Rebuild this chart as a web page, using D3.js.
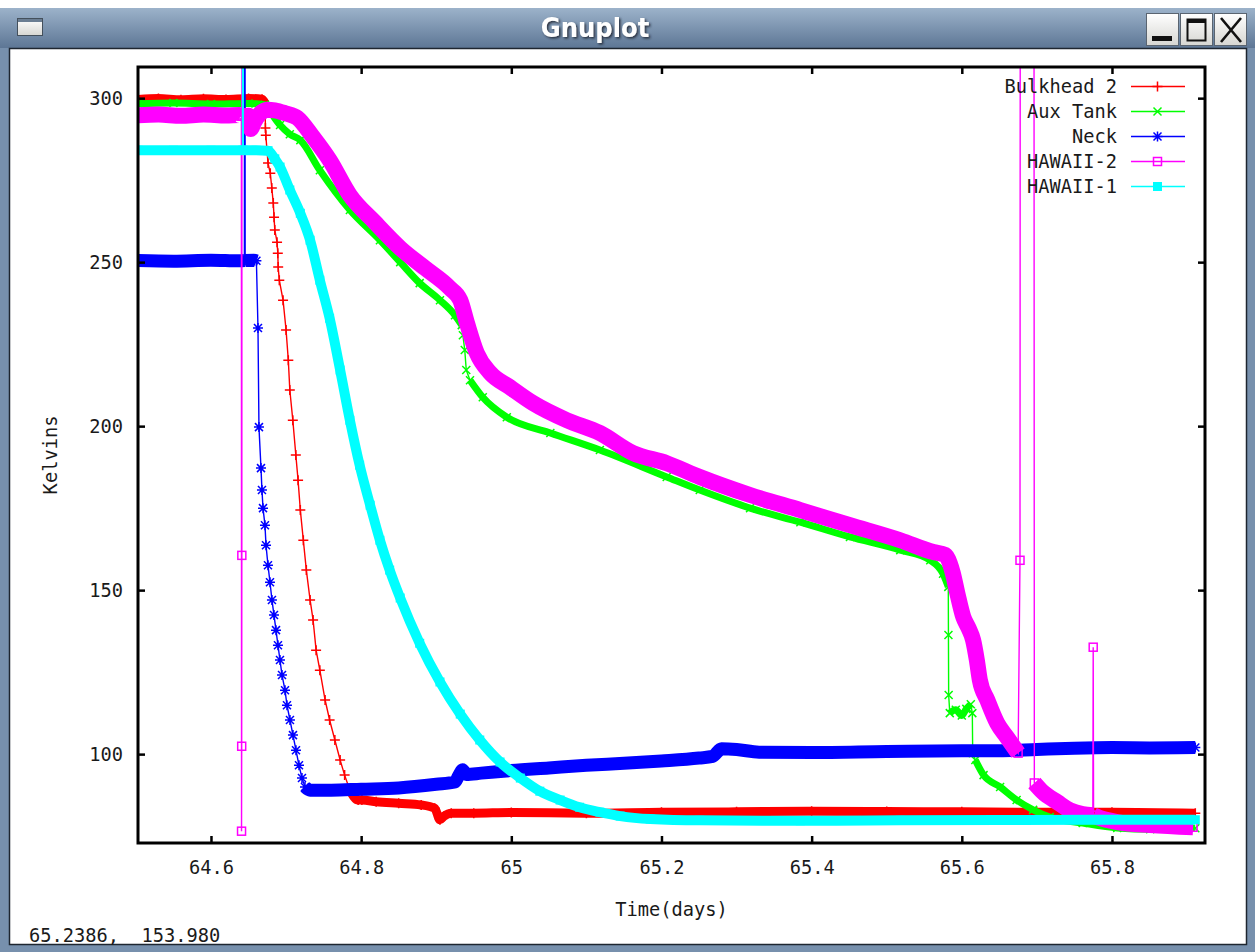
<!DOCTYPE html>
<html><head><meta charset="utf-8">
<script src="https://cdn.jsdelivr.net/npm/d3@7"></script>
<style>
body{margin:0;background:#fff;}
svg{display:block;}
text{font-family:"DejaVu Sans Mono",monospace;}
</style>
</head><body>
<svg id="c" width="1255" height="952"></svg>
<script>
// ---------- data ----------
const xTicks = [64.6, 64.8, 65.0, 65.2, 65.4, 65.6, 65.8];
const xTickLabels = ["64.6", "64.8", "65", "65.2", "65.4", "65.6", "65.8"];
const yTicks = [100, 150, 200, 250, 300];
const yTickLabels = ["100", "150", "200", "250", "300"];
const seriesNames = ["Bulkhead 2", "Aux Tank", "Neck", "HAWAII-2", "HAWAII-1"];
const xLabel = "Time(days)";
const yLabel = "Kelvins";
const statusText = "65.2386,  153.980";

const bulkhead2 = [
  [64.503, 299.6], [64.53, 299.9], [64.56, 299.5], [64.59, 299.8], [64.62, 299.6], [64.65, 299.9],
  [64.668, 299.7], [64.672, 298.5], [64.6725, 290.9], [64.673, 288.7], [64.676, 280.2], [64.679, 277.1],
  [64.681, 272.6], [64.683, 268.0], [64.684, 263.7], [64.685, 259.8], [64.688, 256.1], [64.689, 252.7],
  [64.6895, 248.5], [64.691, 244.5], [64.696, 238.4], [64.700, 229.3], [64.703, 220.1], [64.705, 211.0],
  [64.709, 201.8], [64.713, 191.2], [64.716, 183.5], [64.719, 174.4], [64.723, 165.2], [64.727, 156.1],
  [64.732, 147.0], [64.736, 140.9], [64.740, 131.7], [64.745, 125.6], [64.752, 116.5], [64.758, 110.4],
  [64.765, 104.3], [64.772, 98.2], [64.778, 93.6], [64.785, 89.0], [64.796, 86.0], [64.801, 86.0],
  [64.82, 85.5], [64.85, 85.0], [64.88, 84.5], [64.898, 83.5], [64.905, 80.0], [64.91, 81.0],
  [64.92, 82.0], [64.95, 82.0], [65.0, 82.2], [65.1, 82.0], [65.2, 82.3], [65.3, 82.4], [65.4, 82.6],
  [65.5, 82.5], [65.6, 82.4], [65.7, 82.3], [65.8, 82.3], [65.911, 82.0]
];
const auxTank = [
  [64.503, 298.3], [64.55, 298.5], [64.6, 298.2], [64.65, 298.4], [64.672, 298.0], [64.68, 295.5],
  [64.692, 291.8], [64.705, 289.0], [64.719, 287.2], [64.745, 278.0], [64.785, 265.9], [64.825, 256.7],
  [64.852, 250.0], [64.878, 243.6], [64.905, 238.4], [64.925, 233.8], [64.934, 230.8], [64.9355, 227.7],
  [64.938, 223.2], [64.940, 217.1], [64.945, 214.0], [64.962, 208.8], [64.994, 202.7], [65.052, 197.9],
  [65.118, 192.7], [65.207, 184.5], [65.251, 180.5], [65.318, 175.0], [65.385, 170.7], [65.451, 166.2],
  [65.518, 162.2], [65.558, 159.1], [65.575, 155.0], [65.582, 151.0], [65.5822, 136.3], [65.5825, 118.0],
  [65.584, 112.5], [65.592, 113.5], [65.600, 111.8], [65.606, 113.8], [65.612, 115.2], [65.614, 112.5],
  [65.6145, 100.3], [65.618, 98.2], [65.629, 93.6], [65.651, 90.0], [65.673, 86.0], [65.695, 83.0],
  [65.717, 80.8], [65.761, 79.0], [65.807, 77.5], [65.851, 77.1], [65.911, 77.4]
];
const neck = [
  [64.503, 250.5], [64.55, 250.3], [64.6, 250.6], [64.638, 250.4], [64.6445, 250.5], [64.6448, 420],
  [64.6452, 420], [64.6455, 250.5], [64.657, 250.6], [64.6605, 250.4],
  [64.6626, 229.9], [64.6639, 199.7], [64.6666, 187.2], [64.6679, 180.5], [64.6693, 175.0], [64.6719, 169.8],
  [64.6733, 163.7], [64.6759, 157.6], [64.6786, 152.4], [64.6812, 147.0], [64.6839, 142.4], [64.6866, 137.8],
  [64.6892, 133.2], [64.6919, 128.7], [64.6946, 124.1], [64.6986, 119.5], [64.7012, 114.9], [64.7052, 110.4],
  [64.7092, 105.8], [64.7132, 101.2], [64.7172, 96.6], [64.7212, 92.7], [64.7252, 90.0], [64.7319, 89.0],
  [64.76, 89.0], [64.8, 89.3], [64.85, 89.7], [64.9, 90.8], [64.925, 91.5], [64.93, 93.5], [64.935, 95.2],
  [64.94, 93.8], [64.96, 94.2], [65.0, 95.0], [65.05, 95.8], [65.1, 96.6], [65.15, 97.2], [65.2, 97.9],
  [65.25, 98.8], [65.268, 99.3], [65.28, 101.6], [65.3, 101.4], [65.33, 100.6], [65.4, 100.5], [65.5, 100.8],
  [65.6, 101.0], [65.65, 101.0], [65.7, 101.4], [65.75, 101.8], [65.8, 102.0], [65.85, 101.9], [65.911, 102.0]
];
const hawaii2 = [
  [64.503, 294.8], [64.53, 295.0], [64.56, 294.6], [64.59, 295.0], [64.62, 294.7], [64.638, 294.9],
  [64.6405, 294.5], [64.6407, 76.5], [64.6409, 102.4], [64.6411, 160.6], [64.6413, 420], [64.6415, 294.5],
  [64.65, 294.6], [64.653, 290.6], [64.657, 292.5], [64.665, 295.2], [64.675, 296.5], [64.685, 296.3],
  [64.699, 295.4], [64.715, 294.0], [64.736, 288.1], [64.758, 281.1], [64.785, 270.4], [64.818, 262.2],
  [64.852, 254.3], [64.885, 248.2], [64.918, 242.1], [64.932, 238.4], [64.941, 231.4], [64.954, 222.3],
  [64.972, 216.2], [64.998, 211.9], [65.029, 207.0], [65.074, 201.8], [65.118, 197.9], [65.162, 191.8],
  [65.207, 188.7], [65.251, 184.5], [65.318, 179.0], [65.385, 174.4], [65.451, 169.8], [65.518, 165.2],
  [65.562, 161.6], [65.578, 160.7], [65.584, 158.2], [65.588, 155.2], [65.594, 149.1], [65.602, 141.8],
  [65.609, 138.4], [65.615, 134.8], [65.620, 128.7], [65.624, 122.6], [65.634, 116.5], [65.647, 109.5],
  [65.660, 105.2], [65.675, 100.3], [65.6775, 159.1], [65.678, 420], [65.696, 420], [65.6966, 91.2],
  [65.708, 88.4], [65.727, 85.4], [65.744, 82.9], [65.761, 81.7], [65.7745, 81.4], [65.775, 132.6],
  [65.7755, 81.3], [65.784, 80.5], [65.807, 79.3], [65.851, 78.4], [65.908, 77.7]
];
const hawaii1 = [
  [64.503, 284.1], [64.55, 284.1], [64.6, 284.1], [64.642, 284.1], [64.6425, 420], [64.643, 284.1],
  [64.66, 284.1], [64.676, 284.0], [64.685, 281.5], [64.692, 279.0], [64.705, 272.0], [64.719, 264.9],
  [64.732, 256.7], [64.745, 244.5], [64.758, 232.9], [64.772, 217.1], [64.785, 201.8], [64.798, 188.1],
  [64.812, 175.9], [64.825, 165.2], [64.838, 156.1], [64.852, 147.6], [64.878, 133.8], [64.905, 122.0],
  [64.932, 112.2], [64.958, 104.3], [64.985, 97.6], [65.012, 92.7], [65.038, 88.7], [65.065, 86.0],
  [65.091, 83.8], [65.118, 82.3], [65.145, 81.1], [65.185, 80.2], [65.251, 79.8], [65.385, 79.7],
  [65.518, 79.8], [65.651, 79.9], [65.784, 80.0], [65.911, 80.0]
];
const seriesData = [bulkhead2, auxTank, neck, hawaii2, hawaii1];
const seriesColors = ["#ff0000", "#00ff00", "#0000ff", "#ff00ff", "#00ffff"];

// ---------- layout ----------
const W = 1255, H = 952;
const plot = {left: 138, right: 1205, top: 67, bottom: 843};
const svg = d3.select("#c");
const defs = svg.append("defs");

// window chrome
const grad = defs.append("linearGradient").attr("id", "tb").attr("x1", 0).attr("y1", 0).attr("x2", 0).attr("y2", 1);
grad.append("stop").attr("offset", "0%").attr("stop-color", "#9cb2ca");
grad.append("stop").attr("offset", "100%").attr("stop-color", "#5d7695");
const bgrad = defs.append("linearGradient").attr("id", "btn").attr("x1", 0).attr("y1", 0).attr("x2", 0).attr("y2", 1);
bgrad.append("stop").attr("offset", "0%").attr("stop-color", "#ffffff");
bgrad.append("stop").attr("offset", "100%").attr("stop-color", "#d6d6d2");
const sh = defs.append("filter").attr("id", "sh").attr("x", "-10%").attr("y", "-20%").attr("width", "130%").attr("height", "150%");
sh.append("feDropShadow").attr("dx", 1.5).attr("dy", 1.5).attr("stdDeviation", 1).attr("flood-color", "#1a2430").attr("flood-opacity", 0.9);

svg.append("rect").attr("x", 0).attr("y", 0).attr("width", W).attr("height", H).attr("fill", "#ffffff");
svg.append("rect").attr("x", 0).attr("y", 8).attr("width", W).attr("height", H - 8).attr("fill", "#7790ad");
svg.append("rect").attr("x", 0).attr("y", 8).attr("width", W).attr("height", 40).attr("fill", "url(#tb)");
svg.append("rect").attr("x", 9.5).attr("y", 48.5).attr("width", 1237).attr("height", 896).attr("fill", "#ffffff").attr("stroke", "#1e2630").attr("stroke-width", 1.5);
// left icon
svg.append("rect").attr("x", 17.5).attr("y", 18.5).attr("width", 25).attr("height", 17).attr("fill", "url(#btn)").attr("stroke", "#44505c");
svg.append("rect").attr("x", 18).attr("y", 19).attr("width", 24).attr("height", 3).attr("fill", "#6a7d92");
// title
svg.append("text").attr("x", 595).attr("y", 37).attr("text-anchor", "middle")
  .style("font-family", "'DejaVu Sans Condensed','DejaVu Sans',sans-serif").style("font-weight", "bold").style("font-size", "27px")
  .attr("fill", "#ffffff").attr("filter", "url(#sh)").text("Gnuplot");
// buttons
const btnX = [1146, 1180, 1214];
btnX.forEach((bx) => {
  svg.append("rect").attr("x", bx + 0.5).attr("y", 13.5).attr("width", 32).attr("height", 32).attr("fill", "url(#btn)").attr("stroke", "#5a6470");
});
svg.append("rect").attr("x", 1152).attr("y", 36).attr("width", 20).attr("height", 5).attr("fill", "#111");
svg.append("rect").attr("x", 1187.5).attr("y", 19.5).attr("width", 18).attr("height", 21).attr("fill", "none").attr("stroke", "#111").attr("stroke-width", 2);
svg.append("rect").attr("x", 1187).attr("y", 19).attr("width", 19).attr("height", 4).attr("fill", "#111");
svg.append("path").attr("d", "M1221,18L1241,42M1241,18L1221,42").attr("stroke", "#111").attr("stroke-width", 2.6);

// ---------- scales ----------
const x = d3.scaleLinear().domain([64.5028, 65.9239]).range([plot.left, plot.right]);
const y = d3.scaleLinear().domain([72.9, 309.5]).range([plot.bottom, plot.top]);

const FS = 18.7;
const TXT = "#1a1a1a";

// clip
defs.append("clipPath").attr("id", "clip").append("rect")
  .attr("x", plot.left).attr("y", plot.top).attr("width", plot.right - plot.left).attr("height", plot.bottom - plot.top);

// ---------- markers ----------
function drawMarker(g, type, cx, cy, color) {
  if (type === "plus") {
    g.append("path").attr("d", `M${cx - 5},${cy}H${cx + 5}M${cx},${cy - 5}V${cy + 5}`).attr("stroke", color).attr("stroke-width", 1.5).attr("fill", "none");
  } else if (type === "cross") {
    g.append("path").attr("d", `M${cx - 4},${cy - 4}L${cx + 4},${cy + 4}M${cx - 4},${cy + 4}L${cx + 4},${cy - 4}`).attr("stroke", color).attr("stroke-width", 1.5).attr("fill", "none");
  } else if (type === "star") {
    g.append("path").attr("d", `M${cx - 5},${cy}H${cx + 5}M${cx},${cy - 5}V${cy + 5}M${cx - 4},${cy - 4}L${cx + 4},${cy + 4}M${cx - 4},${cy + 4}L${cx + 4},${cy - 4}`).attr("stroke", color).attr("stroke-width", 1.5).attr("fill", "none");
  } else if (type === "box") {
    g.append("rect").attr("x", cx - 4).attr("y", cy - 4).attr("width", 8).attr("height", 8).attr("fill", "none").attr("stroke", color).attr("stroke-width", 1.5);
  } else if (type === "fbox") {
    g.append("rect").attr("x", cx - 4.5).attr("y", cy - 4.5).attr("width", 9).attr("height", 9).attr("fill", color);
  }
}
const markerTypes = ["plus", "cross", "star", "box", "fbox"];
const bandWidths = [9, 7, 13, 16, 10];
const slopeLimits = [2.5, 2.5, 2.5, 8, 8];

// ---------- series ----------
const plotG = svg.append("g").attr("clip-path", "url(#clip)");
const line = d3.line();
const bandLine = d3.line().curve(d3.curveMonotoneX);
seriesData.forEach((data, si) => {
  const color = seriesColors[si];
  const g = plotG.append("g");
  const pts = data.map(d => [x(d[0]), y(d[1])]);
  g.append("path").attr("d", line(pts)).attr("fill", "none").attr("stroke", color).attr("stroke-width", 1.4);
  // dense sample runs drawn as wide trails
  const runs = [];
  let cur = null;
  for (let i = 1; i < pts.length; i++) {
    const dx = pts[i][0] - pts[i - 1][0], dy = pts[i][1] - pts[i - 1][1];
    if (Math.abs(dy) <= slopeLimits[si] * Math.abs(dx)) {
      if (!cur) { cur = [pts[i - 1]]; runs.push(cur); }
      cur.push(pts[i]);
    } else cur = null;
  }
  runs.forEach(r => g.append("path").attr("d", bandLine(r)).attr("fill", "none").attr("stroke", color)
    .attr("stroke-width", bandWidths[si]).attr("stroke-linejoin", "round").attr("stroke-linecap", "butt"));
  pts.forEach(p => drawMarker(g, markerTypes[si], p[0], p[1], color));
});

// ---------- axes ----------
const axG = svg.append("g");
axG.append("g").attr("transform", `translate(0,${plot.bottom})`)
  .call(d3.axisBottom(x).tickValues(xTicks).tickFormat((d, i) => xTickLabels[i]).tickSizeInner(-7).tickSizeOuter(0).tickPadding(18));
axG.append("g").attr("transform", `translate(0,${plot.top})`)
  .call(d3.axisTop(x).tickValues(xTicks).tickFormat("").tickSizeInner(-7).tickSizeOuter(0));
axG.append("g").attr("transform", `translate(${plot.left},0)`)
  .call(d3.axisLeft(y).tickValues(yTicks).tickFormat((d, i) => yTickLabels[i]).tickSizeInner(-7).tickSizeOuter(0).tickPadding(15));
axG.append("g").attr("transform", `translate(${plot.right},0)`)
  .call(d3.axisRight(y).tickValues(yTicks).tickFormat("").tickSizeInner(-7).tickSizeOuter(0));
axG.selectAll(".domain").remove();
axG.selectAll(".tick line").attr("stroke", "#000").attr("stroke-width", 2.5);
axG.selectAll("text").style("font-family", "'DejaVu Sans Mono',monospace").style("font-size", FS + "px").attr("fill", TXT);

// frame
svg.append("rect").attr("x", plot.left).attr("y", plot.top).attr("width", plot.right - plot.left).attr("height", plot.bottom - plot.top)
  .attr("fill", "none").attr("stroke", "#000").attr("stroke-width", 3);

// axis titles
svg.append("text").attr("x", (plot.left + plot.right) / 2).attr("y", 916).attr("text-anchor", "middle")
  .style("font-size", FS + "px").attr("fill", TXT).text(xLabel);
svg.append("text").attr("transform", `translate(57,${(plot.top + plot.bottom) / 2}) rotate(-90)`).attr("text-anchor", "middle")
  .style("font-size", FS + "px").attr("fill", TXT).text(yLabel);

// legend
const lg = svg.append("g");
seriesNames.forEach((name, i) => {
  const ly = 86.5 + i * 25;
  lg.append("text").attr("x", 1117).attr("y", ly).attr("dy", "0.36em").attr("text-anchor", "end")
    .style("font-size", FS + "px").attr("fill", TXT).text(name);
  lg.append("line").attr("x1", 1131).attr("x2", 1185).attr("y1", ly).attr("y2", ly).attr("stroke", seriesColors[i]).attr("stroke-width", 1.6);
  drawMarker(lg, markerTypes[i], 1157.5, ly, seriesColors[i]);
});

// status line
svg.append("text").attr("x", 29).attr("y", 942).style("font-size", FS + "px").style("white-space", "pre").attr("xml:space", "preserve")
  .attr("fill", TXT).text(statusText);
</script>
</body></html>
